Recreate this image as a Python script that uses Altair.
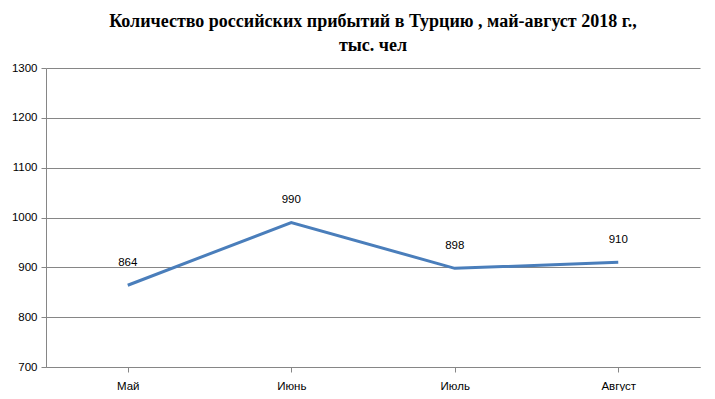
import altair as alt
import pandas as pd

months = ["Май", "Июнь", "Июль", "Август"]
arrivals = [864, 990, 898, 910]

df = pd.DataFrame({"month": months, "value": arrivals})

grey = "#868686"

base = alt.Chart(df).encode(
    x=alt.X("month:N", sort=months, title=None,
            scale=alt.Scale(paddingInner=0, paddingOuter=0),
            axis=alt.Axis(labelAngle=0, bandPosition=0, tickSize=5, tickColor=grey,
                          domainColor=grey, labelFont="Liberation Sans", labelFontSize=11.5,
                          labelColor="#000000", labelPadding=8, grid=False)),
    y=alt.Y("value:Q", title=None,
            scale=alt.Scale(domain=[700, 1300], nice=False, zero=False),
            axis=alt.Axis(values=[700, 800, 900, 1000, 1100, 1200, 1300], format="d",
                          tickSize=5, tickColor=grey, domainColor=grey, gridColor=grey,
                          labelFont="Liberation Sans", labelFontSize=11.5,
                          labelColor="#000000", labelPadding=4)),
)

line = base.mark_line(color="#4a7ebb", strokeWidth=3)
labels = base.mark_text(dy=-22, font="Liberation Sans", fontSize=11.5, color="#000000").encode(
    text=alt.Text("value:Q"))

chart = (line + labels).properties(
    width=654, height=299,
    padding={"left": 38, "top": 60, "right": 7, "bottom": 24},
    autosize=alt.AutoSizeParams(type="none"),
    title=alt.TitleParams(
        ["Количество российских прибытий в Турцию , май-август 2018 г.,", "тыс. чел"],
        font="Liberation Serif", fontSize=18, fontWeight="bold", color="#000000",
        anchor="middle", lineHeight=24, offset=7),
).configure_view(stroke=None)

chart.save("out.html", embed_options={"renderer": "svg", "actions": False})
